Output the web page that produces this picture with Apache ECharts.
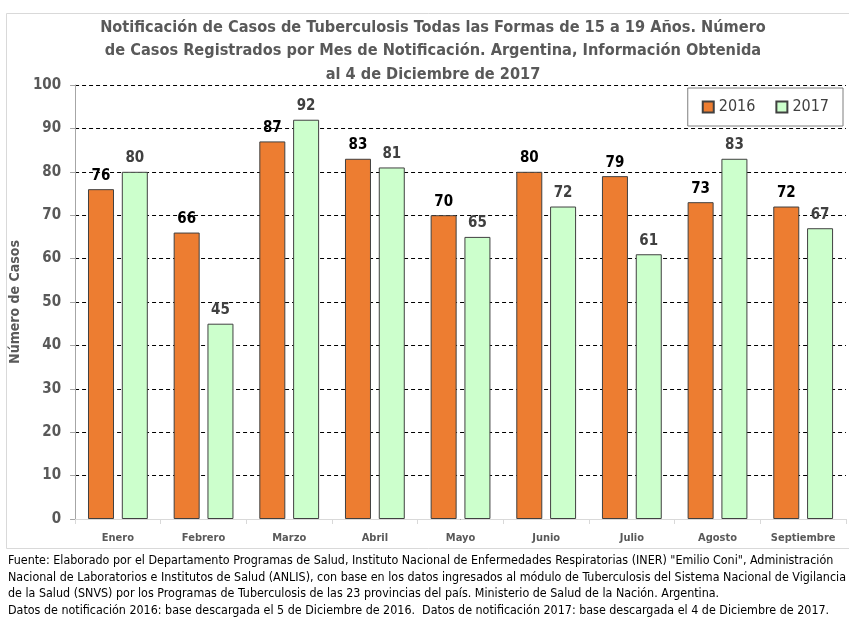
<!DOCTYPE html>
<html>
<head>
<meta charset="utf-8">
<script src="https://cdn.jsdelivr.net/npm/echarts@6/dist/echarts.min.js"></script>
<style>
  html, body { margin: 0; padding: 0; background: #fff; }
  #chart { width: 849px; height: 621px; }
</style>
</head>
<body>
<div id="chart"></div>
<script>
var meses = ['Enero', 'Febrero', 'Marzo', 'Abril', 'Mayo', 'Junio', 'Julio', 'Agosto', 'Septiembre'];
var casos2016 = [76, 66, 87, 83, 70, 80, 79, 73, 72];
var casos2017 = [80, 45, 92, 81, 65, 72, 61, 83, 67];
var yTicks = [0, 100, 10];

var fuente = [
    'Fuente: Elaborado por el Departamento Programas de Salud, Instituto Nacional de Enfermedades Respiratorias (INER) "Emilio Coni", Administración',
    'Nacional de Laboratorios e Institutos de Salud (ANLIS), con base en los datos ingresados al módulo de Tuberculosis del Sistema Nacional de Vigilancia',
    'de la Salud (SNVS) por los Programas de Tuberculosis de las 23 provincias del país. Ministerio de Salud de la Nación. Argentina.',
    'Datos de notificación 2016: base descargada el 5 de Diciembre de 2016.  Datos de notificación 2017: base descargada el 4 de Diciembre de 2017.'
];

var FONT = '"Liberation Sans Narrow", "DejaVu Sans Condensed", "Open Sans", sans-serif';

var myChart = echarts.init(document.getElementById('chart'));

var option = {
    backgroundColor: '#fff',
    animation: false,
    textStyle: { fontFamily: FONT },
    title: {
        text: 'Notificación de Casos de Tuberculosis Todas las Formas de 15 a 19 Años. Número\nde Casos Registrados por Mes de Notificación. Argentina, Información Obtenida\nal 4 de Diciembre de 2017',
        left: 428,
        textAlign: 'center',
        top: 11,
        textStyle: {
            fontFamily: FONT,
            fontSize: 16.2,
            fontWeight: 'bold',
            color: '#595959',
            lineHeight: 23.5
        }
    },
    legend: {
        right: 6,
        top: 88,
        width: 160,
        height: 40,
        padding: [11, 14, 11, 14],
        borderColor: '#7f7f7f',
        borderWidth: 1,
        backgroundColor: '#fff',
        itemWidth: 11,
        itemHeight: 11,
        itemGap: 20,
        icon: 'rect',
        textStyle: { fontFamily: FONT, fontSize: 16, color: '#404040' },
        data: ['2016', '2017']
    },
    grid: {
        left: 73,
        right: 3,
        top: 85,
        bottom: 102,
        containLabel: false
    },
    xAxis: {
        type: 'category',
        data: meses,
        axisLine: { show: true, lineStyle: { color: '#d9d9d9' } },
        axisTick: { show: true, length: 5, lineStyle: { color: '#d9d9d9' } },
        axisLabel: {
            fontFamily: FONT,
            fontSize: 11,
            fontWeight: 'bold',
            color: '#595959',
            margin: 14
        }
    },
    yAxis: {
        type: 'value',
        min: yTicks[0],
        max: yTicks[1],
        interval: yTicks[2],
        name: 'Número de Casos',
        nameLocation: 'middle',
        nameGap: 48,
        nameRotate: 90,
        nameTextStyle: {
            fontFamily: FONT,
            fontSize: 14,
            fontWeight: 'bold',
            color: '#595959'
        },
        axisLine: { show: true, lineStyle: { color: '#a6a6a6' } },
        axisTick: { show: true, length: 5, lineStyle: { color: '#a6a6a6' } },
        axisLabel: {
            fontFamily: FONT,
            fontSize: 15,
            fontWeight: 'bold',
            color: '#595959',
            margin: 14
        },
        splitLine: {
            show: true,
            lineStyle: { color: '#000', type: [4, 3], width: 1 }
        }
    },
    series: [
        {
            name: '2016',
            type: 'bar',
            data: casos2016,
            barWidth: 26,
            barGap: '30%',
            itemStyle: { color: '#ED7D31', borderColor: '#404040', borderWidth: 1 },
            label: {
                show: true,
                position: 'top',
                distance: 6,
                fontFamily: FONT,
                fontSize: 15,
                fontWeight: 'bold',
                color: '#000'
            }
        },
        {
            name: '2017',
            type: 'bar',
            data: casos2017,
            barWidth: 26,
            itemStyle: { color: '#CCFFCC', borderColor: '#404040', borderWidth: 1 },
            label: {
                show: true,
                position: 'top',
                distance: 6,
                fontFamily: FONT,
                fontSize: 15,
                fontWeight: 'bold',
                color: '#404040'
            }
        }
    ],
    graphic: [
        {
            type: 'rect',
            left: 4,
            top: 11,
            shape: { width: 860, height: 535 },
            style: { fill: 'none', stroke: '#d9d9d9', lineWidth: 1 },
            z: -1
        },
        {
            type: 'text',
            left: 8,
            top: 553,
            style: {
                text: fuente.join('\n'),
                fontFamily: FONT,
                fontSize: 12.4,
                lineHeight: 16.5,
                fill: '#000'
            }
        }
    ]
};

myChart.setOption(option);
</script>
</body>
</html>
